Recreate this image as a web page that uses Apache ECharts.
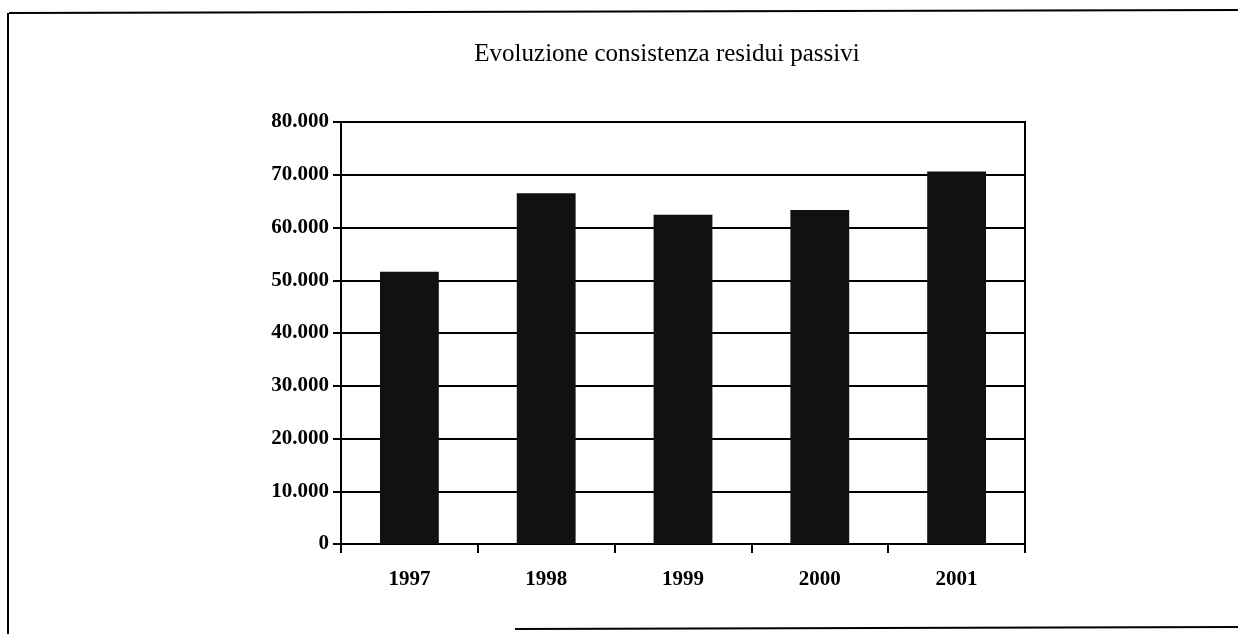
<!DOCTYPE html>
<html><head><meta charset="utf-8">
<script src="https://cdn.jsdelivr.net/npm/echarts@6/dist/echarts.min.js"></script>
<style>html,body{margin:0;padding:0;background:#fff}#c{width:1238px;height:634px}</style>
</head><body><div id="c"></div>
<script>
const categories = ['1997', '1998', '1999', '2000', '2001'];
const values = [51600, 66500, 62400, 63300, 70600];
const yTicks = [0, 10000, 20000, 30000, 40000, 50000, 60000, 70000, 80000];
const titleText = 'Evoluzione consistenza residui passivi';

function fmt(v) {
  return String(v).replace(/\B(?=(\d{3})+(?!\d))/g, '.');
}

const chart = echarts.init(document.getElementById('c'), null, {renderer: 'canvas'});
chart.setOption({
  backgroundColor: '#fff',
  animation: false,
  title: {
    text: titleText,
    left: 662, top: 37, textAlign: 'center',
    textStyle: {fontFamily: 'Liberation Serif', fontSize: 25, fontWeight: 'normal', color: '#000'}
  },
  graphic: [
    {type: 'line', shape: {x1: 9, y1: 13, x2: 1238, y2: 10}, style: {stroke: '#000', lineWidth: 2}},
    {type: 'line', shape: {x1: 8, y1: 13, x2: 8, y2: 634}, style: {stroke: '#000', lineWidth: 2}},
    {type: 'line', shape: {x1: 515, y1: 629, x2: 1238, y2: 627}, style: {stroke: '#000', lineWidth: 2}}
  ],
  grid: {left: 341, right: 213, top: 122, bottom: 90, show: true, borderColor: '#000', borderWidth: 2, backgroundColor: 'transparent'},
  xAxis: {
    type: 'category', data: categories, boundaryGap: true,
    axisLine: {lineStyle: {color: '#000', width: 2}},
    axisTick: {show: true, length: 9, inside: false, lineStyle: {color: '#000', width: 2}},
    axisLabel: {margin: 25, color: '#000', fontFamily: 'Liberation Serif', fontWeight: 'bold', fontSize: 21}
  },
  yAxis: {
    type: 'value', min: yTicks[0], max: yTicks[yTicks.length - 1], interval: yTicks[1] - yTicks[0],
    axisLine: {show: true, lineStyle: {color: '#000', width: 2}},
    axisTick: {show: true, length: 8, lineStyle: {color: '#000', width: 2}},
    splitLine: {show: true, lineStyle: {color: '#000', width: 2}},
    axisLabel: {margin: 12, color: '#000', fontFamily: 'Liberation Serif', fontWeight: 'bold', fontSize: 21, formatter: fmt}
  },
  series: [{
    type: 'bar', data: values, barWidth: '43%',
    itemStyle: {color: '#111'}
  }]
});
</script>
</body></html>
